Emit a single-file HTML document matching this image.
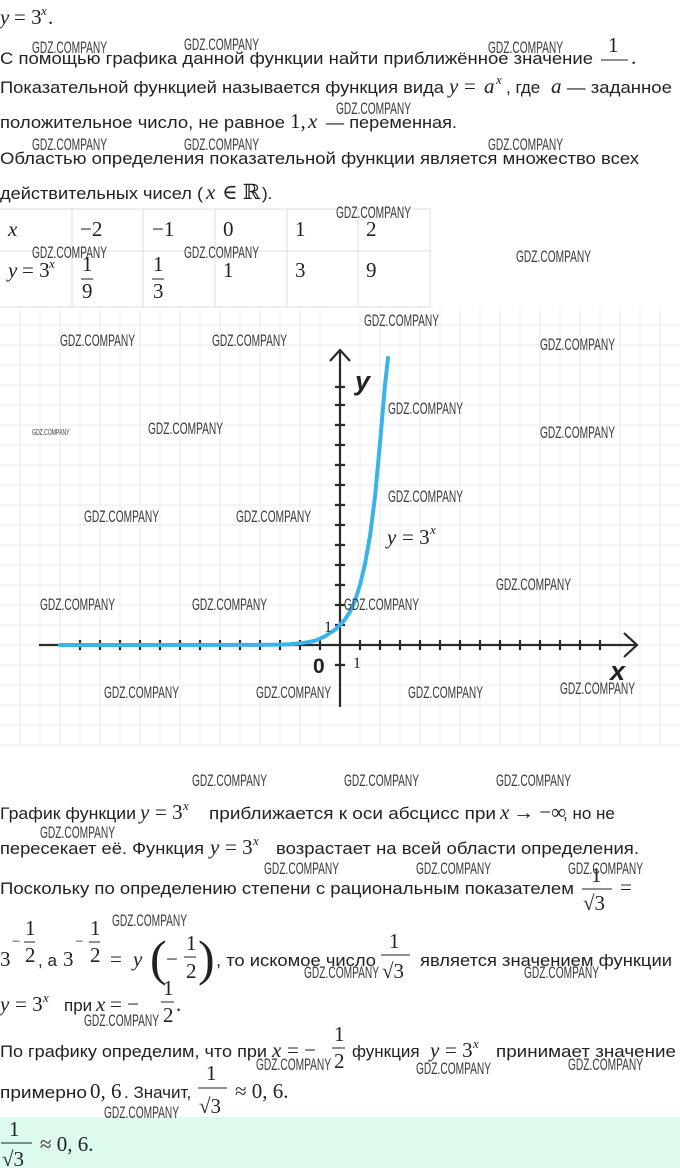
<!DOCTYPE html>
<html><head><meta charset="utf-8"><style>
html,body{margin:0;padding:0;background:#fff;}
svg{display:block;}
.t{font-family:"Liberation Sans","DejaVu Sans",sans-serif;font-size:17px;fill:#222;}
.m{font-family:"Liberation Serif","DejaVu Serif",serif;font-size:21px;fill:#222;}
.mi{font-family:"Liberation Serif","DejaVu Serif",serif;font-size:21px;font-style:italic;fill:#222;}
.s{font-family:"Liberation Serif",serif;font-size:13px;font-style:italic;fill:#222;}
.w{font-family:"Liberation Sans",sans-serif;font-size:17px;fill:#3a3a3a;}
</style></head><body>
<svg width="680" height="1168" viewBox="0 0 680 1168" xmlns="http://www.w3.org/2000/svg">
<text x="0" y="24" class="mi">y</text><text x="14" y="24" class="m">= 3</text><text x="41" y="15" class="s">x</text><text x="48" y="24" class="m">.</text>
<text x="0" y="64" class="t" textLength="593" lengthAdjust="spacingAndGlyphs">С помощью графика данной функции найти приближённое значение</text>
<text x="608" y="52" class="m">1</text><line x1="601" y1="60" x2="628" y2="60" stroke="#222" stroke-width="1"/><text x="631" y="64" class="m">.</text>
<text x="0" y="93" class="t" textLength="444" lengthAdjust="spacingAndGlyphs">Показательной функцией называется функция вида</text>
<text x="449" y="93" class="mi">y</text><text x="464" y="93" class="m">=</text><text x="484" y="93" class="mi">a</text><text x="496" y="84" class="s">x</text>
<text x="506" y="93" class="t">, где</text><text x="551" y="93" class="mi">a</text><text x="567" y="93" class="t" textLength="105" lengthAdjust="spacingAndGlyphs">— заданное</text>
<text x="0" y="128" class="t" textLength="285" lengthAdjust="spacingAndGlyphs">положительное число, не равное</text>
<text x="290" y="128" class="m">1,</text><text x="308" y="128" class="mi">x</text>
<text x="326" y="128" class="t" textLength="131" lengthAdjust="spacingAndGlyphs">— переменная.</text>
<text x="0" y="164" class="t" textLength="639" lengthAdjust="spacingAndGlyphs">Областью определения показательной функции является множество всех</text>
<text x="0" y="199" class="t" textLength="203" lengthAdjust="spacingAndGlyphs">действительных чисел (</text>
<text x="206" y="199" class="mi">x</text><text x="222" y="199" class="m">∈ ℝ</text><text x="262" y="199" class="t">).</text>
<g stroke="#dcdcdc" stroke-width="1">
<line x1="0" y1="209" x2="430" y2="209"/><line x1="0" y1="251" x2="430" y2="251"/><line x1="0" y1="307" x2="430" y2="307"/>
<line x1="72" y1="209" x2="72" y2="307"/><line x1="143" y1="209" x2="143" y2="307"/><line x1="215" y1="209" x2="215" y2="307"/>
<line x1="287" y1="209" x2="287" y2="307"/><line x1="358" y1="209" x2="358" y2="307"/><line x1="430" y1="209" x2="430" y2="307"/>
</g>
<text x="8" y="236" class="mi">x</text><text x="80" y="236" class="m">−2</text><text x="152" y="236" class="m">−1</text><text x="223" y="236" class="m">0</text><text x="295" y="236" class="m">1</text><text x="366" y="236" class="m">2</text>
<text x="8" y="277" class="mi">y</text><text x="22" y="277" class="m">= 3</text><text x="49" y="268" class="s">x</text>
<text x="82" y="271" class="m">1</text><line x1="81" y1="279" x2="93" y2="279" stroke="#222"/><text x="82" y="298" class="m">9</text>
<text x="153" y="271" class="m">1</text><line x1="152" y1="279" x2="164" y2="279" stroke="#222"/><text x="153" y="298" class="m">3</text>
<text x="223" y="277" class="m">1</text><text x="295" y="277" class="m">3</text><text x="366" y="277" class="m">9</text>
<g stroke="#ebebeb" stroke-width="1">
<path d="M0 325H680M0 345H680M0 365H680M0 385H680M0 405H680M0 425H680M0 445H680M0 465H680M0 485H680M0 505H680M0 525H680M0 545H680M0 565H680M0 585H680M0 605H680M0 625H680M0 645H680M0 665H680M0 685H680M0 705H680M0 725H680M0 745H680"/>
<path d="M20 310V745M40 310V745M60 310V745M80 310V745M100 310V745M120 310V745M140 310V745M160 310V745M180 310V745M200 310V745M220 310V745M240 310V745M260 310V745M280 310V745M300 310V745M320 310V745M360 310V745M380 310V745M400 310V745M420 310V745M440 310V745M460 310V745M480 310V745M500 310V745M520 310V745M540 310V745M560 310V745M580 310V745M600 310V745M620 310V745M640 310V745M660 310V745"/>
</g>
<g stroke="#2a2a2a" stroke-width="2.2" fill="none">
<line x1="39" y1="645" x2="637" y2="645"/>
<path d="M624 633L637 645L624 657"/>
<line x1="340" y1="350" x2="340" y2="707"/>
<path d="M330 361L340 350L350 361"/>
<path d="M80 640v10M100 640v10M120 640v10M140 640v10M160 640v10M180 640v10M200 640v10M220 640v10M240 640v10M260 640v10M280 640v10M300 640v10M320 640v10M360 640v10M380 640v10M400 640v10M420 640v10M440 640v10M460 640v10M480 640v10M500 640v10M520 640v10M540 640v10M560 640v10M580 640v10M600 640v10"/>
<path d="M335 625h10M335 605h10M335 585h10M335 565h10M335 545h10M335 525h10M335 505h10M335 485h10M335 465h10M335 445h10M335 425h10M335 405h10M335 387h10M335 665h10"/>
</g>
<path fill="none" stroke="#3ab4e8" stroke-width="4" stroke-linecap="round" d="M60 645 L260 644.9 L280 644.6 L290 644.2 L300 643.3 L310 641.8 L315 640.7 L320 638.7 L325 636.2 L330 633 L335 629.8 L340 625 L345 619.4 L350 611.6 L355 600.8 L360 585 L365 564 L370 536 L375 497 L380 443 L385 385 L388 358"/>
<text x="355" y="390" font-family="Liberation Sans,sans-serif" style="font-size:27px" font-weight="bold" font-style="italic" fill="#222">y</text>
<text x="610" y="680" font-family="Liberation Sans,sans-serif" style="font-size:27px" font-weight="bold" font-style="italic" fill="#222">x</text>
<text x="313" y="673" font-family="Liberation Sans,sans-serif" style="font-size:21px" font-weight="bold" fill="#222">0</text>
<text x="353" y="668" class="m" style="font-size:16px">1</text>
<text x="324" y="632" class="m" style="font-size:16px">1</text>
<text x="387" y="544" class="mi">y</text><text x="402" y="544" class="m">= 3</text><text x="430" y="534" class="s">x</text>
<text x="0" y="819" class="t" textLength="136" lengthAdjust="spacingAndGlyphs">График функции</text>
<text x="140" y="819" class="mi">y</text><text x="155" y="819" class="m">= 3</text><text x="183" y="810" class="s">x</text>
<text x="209" y="819" class="t" textLength="287" lengthAdjust="spacingAndGlyphs">приближается к оси абсцисс при</text>
<text x="500" y="819" class="mi">x</text><text x="513" y="819" class="m">→ −∞</text><text x="563" y="819" class="t">, но не</text>
<text x="0" y="854" class="t" textLength="204" lengthAdjust="spacingAndGlyphs">пересекает её. Функция</text>
<text x="210" y="854" class="mi">y</text><text x="225" y="854" class="m">= 3</text><text x="253" y="845" class="s">x</text>
<text x="276" y="854" class="t" textLength="363" lengthAdjust="spacingAndGlyphs">возрастает на всей области определения.</text>
<text x="0" y="894" class="t" textLength="574" lengthAdjust="spacingAndGlyphs">Поскольку по определению степени с рациональным показателем</text>
<text x="591" y="882" class="m">1</text><line x1="582" y1="889" x2="612" y2="889" stroke="#222"/><text x="583" y="910" class="m">√3</text>
<text x="620" y="894" class="m">=</text>
<text x="0" y="966" class="m">3</text><text x="12" y="946" class="m" style="font-size:15px">−</text>
<text x="25" y="935" class="m">1</text><line x1="24" y1="942" x2="35" y2="942" stroke="#222"/><text x="25" y="962" class="m">2</text>
<text x="38" y="966" class="t">, а</text><text x="63" y="966" class="m">3</text><text x="75" y="946" class="m" style="font-size:15px">−</text>
<text x="90" y="935" class="m">1</text><line x1="89" y1="942" x2="100" y2="942" stroke="#222"/><text x="90" y="962" class="m">2</text>
<text x="110" y="966" class="m">=</text><text x="133" y="966" class="mi">y</text>
<text x="150" y="975" class="m" style="font-size:50px">(</text>
<text x="166" y="966" class="m">−</text><text x="186" y="950" class="m">1</text><line x1="184" y1="957" x2="196" y2="957" stroke="#222"/><text x="186" y="978" class="m">2</text>
<text x="198" y="975" class="m" style="font-size:50px">)</text>
<text x="216" y="966" class="t" textLength="160" lengthAdjust="spacingAndGlyphs">, то искомое число</text>
<text x="389" y="948" class="m">1</text><line x1="381" y1="955" x2="410" y2="955" stroke="#222"/><text x="382" y="978" class="m">√3</text>
<text x="420" y="966" class="t" textLength="252" lengthAdjust="spacingAndGlyphs">является значением функции</text>
<text x="0" y="1011" class="mi">y</text><text x="15" y="1011" class="m">= 3</text><text x="43" y="1002" class="s">x</text>
<text x="64" y="1011" class="t">при</text><text x="96" y="1011" class="mi">x</text><text x="110" y="1011" class="m">= −</text>
<text x="163" y="995" class="m">1</text><line x1="161" y1="1002" x2="174" y2="1002" stroke="#222"/><text x="163" y="1022" class="m">2</text><text x="176" y="1011" class="m">.</text>
<text x="0" y="1057" class="t" textLength="267" lengthAdjust="spacingAndGlyphs">По графику определим, что при</text>
<text x="272" y="1057" class="mi">x</text><text x="287" y="1057" class="m">= −</text>
<text x="334" y="1041" class="m">1</text><line x1="332" y1="1048" x2="345" y2="1048" stroke="#222"/><text x="334" y="1068" class="m">2</text>
<text x="352" y="1057" class="t">функция</text><text x="430" y="1057" class="mi">y</text><text x="445" y="1057" class="m">= 3</text><text x="473" y="1048" class="s">x</text>
<text x="496" y="1057" class="t" textLength="180" lengthAdjust="spacingAndGlyphs">принимает значение</text>
<text x="0" y="1098" class="t" textLength="87" lengthAdjust="spacingAndGlyphs">примерно</text>
<text x="90" y="1098" class="m">0, 6</text><text x="124" y="1098" class="t">. Значит,</text>
<text x="206" y="1080" class="m">1</text><line x1="198" y1="1088" x2="227" y2="1088" stroke="#222"/><text x="199" y="1113" class="m">√3</text>
<text x="235" y="1098" class="m">≈ 0, 6.</text>
<rect x="0" y="1117" width="680" height="51" fill="#dcfbec"/>
<text x="9" y="1136" class="m">1</text><line x1="1" y1="1143" x2="32" y2="1143" stroke="#222"/><text x="2" y="1166" class="m">√3</text>
<text x="40" y="1151" class="m">≈ 0, 6.</text>
<g class="w">
<text transform="translate(32,53) scale(0.6,1)">GDZ.COMPANY</text>
<text transform="translate(184,50) scale(0.6,1)">GDZ.COMPANY</text>
<text transform="translate(488,53) scale(0.6,1)">GDZ.COMPANY</text>
<text transform="translate(336,114) scale(0.6,1)">GDZ.COMPANY</text>
<text transform="translate(32,150) scale(0.6,1)">GDZ.COMPANY</text>
<text transform="translate(184,150) scale(0.6,1)">GDZ.COMPANY</text>
<text transform="translate(488,150) scale(0.6,1)">GDZ.COMPANY</text>
<text transform="translate(336,218) scale(0.6,1)">GDZ.COMPANY</text>
<text transform="translate(32,258) scale(0.6,1)">GDZ.COMPANY</text>
<text transform="translate(184,258) scale(0.6,1)">GDZ.COMPANY</text>
<text transform="translate(516,262) scale(0.6,1)">GDZ.COMPANY</text>
<text transform="translate(364,326) scale(0.6,1)">GDZ.COMPANY</text>
<text transform="translate(60,346) scale(0.6,1)">GDZ.COMPANY</text>
<text transform="translate(212,346) scale(0.6,1)">GDZ.COMPANY</text>
<text transform="translate(540,350) scale(0.6,1)">GDZ.COMPANY</text>
<text transform="translate(32,435) scale(0.3,0.5)">GDZ.COMPANY</text>
<text transform="translate(148,434) scale(0.6,1)">GDZ.COMPANY</text>
<text transform="translate(540,438) scale(0.6,1)">GDZ.COMPANY</text>
<text transform="translate(388,414) scale(0.6,1)">GDZ.COMPANY</text>
<text transform="translate(388,502) scale(0.6,1)">GDZ.COMPANY</text>
<text transform="translate(84,522) scale(0.6,1)">GDZ.COMPANY</text>
<text transform="translate(236,522) scale(0.6,1)">GDZ.COMPANY</text>
<text transform="translate(496,590) scale(0.6,1)">GDZ.COMPANY</text>
<text transform="translate(40,610) scale(0.6,1)">GDZ.COMPANY</text>
<text transform="translate(192,610) scale(0.6,1)">GDZ.COMPANY</text>
<text transform="translate(344,610) scale(0.6,1)">GDZ.COMPANY</text>
<text transform="translate(104,698) scale(0.6,1)">GDZ.COMPANY</text>
<text transform="translate(256,698) scale(0.6,1)">GDZ.COMPANY</text>
<text transform="translate(408,698) scale(0.6,1)">GDZ.COMPANY</text>
<text transform="translate(560,694) scale(0.6,1)">GDZ.COMPANY</text>
<text transform="translate(192,786) scale(0.6,1)">GDZ.COMPANY</text>
<text transform="translate(344,786) scale(0.6,1)">GDZ.COMPANY</text>
<text transform="translate(496,786) scale(0.6,1)">GDZ.COMPANY</text>
<text transform="translate(40,838) scale(0.6,1)">GDZ.COMPANY</text>
<text transform="translate(264,874) scale(0.6,1)">GDZ.COMPANY</text>
<text transform="translate(416,874) scale(0.6,1)">GDZ.COMPANY</text>
<text transform="translate(568,874) scale(0.6,1)">GDZ.COMPANY</text>
<text transform="translate(112,926) scale(0.6,1)">GDZ.COMPANY</text>
<text transform="translate(304,978) scale(0.6,1)">GDZ.COMPANY</text>
<text transform="translate(524,978) scale(0.6,1)">GDZ.COMPANY</text>
<text transform="translate(84,1026) scale(0.6,1)">GDZ.COMPANY</text>
<text transform="translate(256,1070) scale(0.6,1)">GDZ.COMPANY</text>
<text transform="translate(416,1074) scale(0.6,1)">GDZ.COMPANY</text>
<text transform="translate(568,1070) scale(0.6,1)">GDZ.COMPANY</text>
<text transform="translate(104,1118) scale(0.6,1)">GDZ.COMPANY</text>
</g>
</svg>
</body></html>
